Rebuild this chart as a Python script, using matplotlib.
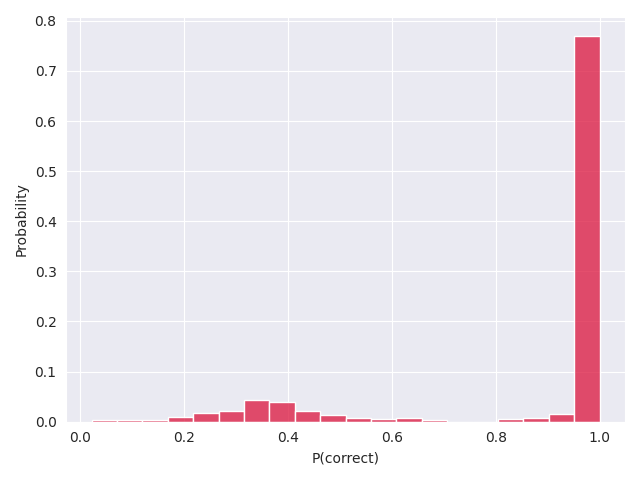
import numpy as np
import pandas as pd
import matplotlib
matplotlib.use('Agg')
import matplotlib.pyplot as plt
import seaborn as sns

# bin range (20 bins from ~0.022 to 1.0)
bin_lo = 0.0224
bin_hi = 1.0
n_bins = 20

# probability per bin, left to right
probs = [0.003, 0.003, 0.003, 0.009, 0.017, 0.021, 0.043, 0.039, 0.021, 0.013,
         0.007, 0.005, 0.007, 0.003, 0.0, 0.0, 0.005, 0.007, 0.015, 0.769]

edges = np.linspace(bin_lo, bin_hi, n_bins + 1)
df = pd.DataFrame({"p": (edges[:-1] + edges[1:]) / 2, "w": probs})

sns.set_style("darkgrid")
fig, ax = plt.subplots(figsize=(6.4, 4.8), dpi=100)
sns.histplot(data=df, x="p", weights="w", bins=n_bins, binrange=(bin_lo, bin_hi),
             color="crimson", stat="count", ax=ax)
ax.set_xlabel("P(correct)")
ax.set_ylabel("Probability")
plt.tight_layout()
fig.savefig("out.png")
plt.close(fig)
